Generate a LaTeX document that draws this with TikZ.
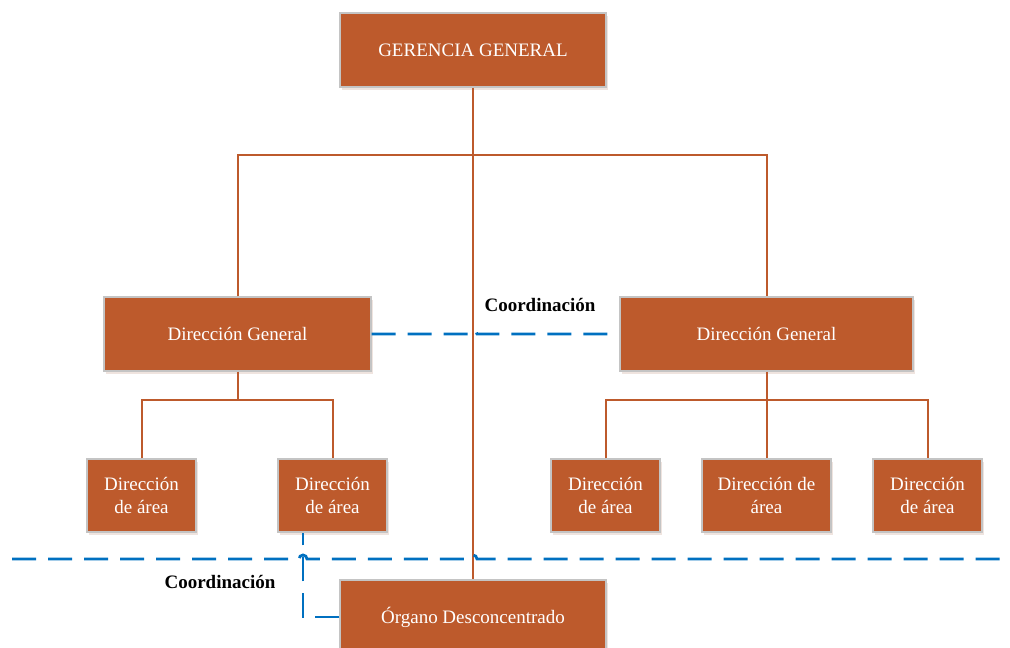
\documentclass[tikz,border=0pt]{standalone}
\usepackage{fontspec}
\setmainfont{Liberation Serif}
\usetikzlibrary{shadows}
\definecolor{boxfill}{HTML}{BD5A2C}
\definecolor{boxedge}{HTML}{C4C4C4}
\definecolor{linkblue}{HTML}{0070C0}
\tikzset{
  unit/.style={draw=boxedge, line width=1.4pt, fill=boxfill, text=white,
    inner sep=0pt, align=center, font=\fontsize{19}{23}\selectfont,
    drop shadow={shadow xshift=2pt, shadow yshift=-3pt, opacity=0.18, fill=boxfill!60!gray}},
  area/.style={unit, minimum width=109pt, minimum height=73pt},
  tree/.style={draw=boxfill, line width=2pt},
  coord/.style={draw=linkblue, line width=2.8pt, dash pattern=on 24pt off 12pt},
  tag/.style={font=\fontsize{19}{23}\selectfont\bfseries, text=black}
}
\begin{document}
\begin{tikzpicture}[x=1pt, y=-1pt]
  \useasboundingbox (0,0) rectangle (1010,648);

  % hierarchy connectors (drawn first, beneath the boxes)
  \coordinate (j1) at (473,155);
  \coordinate (jl) at (237.5,400);
  \coordinate (jr) at (766.5,400);

  % boxes
  \node[unit, minimum width=266pt, minimum height=74pt] (gg) at (473,50) {GERENCIA GENERAL};
  \node[unit, minimum width=267pt, minimum height=74pt] (dgl) at (237.5,334) {Dirección General};
  \node[unit, minimum width=293pt, minimum height=74pt] (dgr) at (766.5,334) {Dirección General};
  \node[area] (a1) at (141.5,495.5) {Dirección\\de área};
  \node[area] (a2) at (332.5,495.5) {Dirección\\de área};
  \node[area] (a3) at (605.5,495.5) {Dirección\\de área};
  \node[area, minimum width=129pt] (a4) at (766.5,495.5) {Dirección de\\área};
  \node[area] (a5) at (927.5,495.5) {Dirección\\de área};
  \node[unit, minimum width=266pt, minimum height=74pt] (org) at (473,617) {Órgano Desconcentrado};

  \draw[tree] (gg.south) -- (org.north);
  \draw[tree] (dgl.north) |- (j1) -| (dgr.north);
  \draw[tree] (dgl.south) -- (jl);
  \draw[tree] (a1.north) |- (jl) -| (a2.north);
  \draw[tree] (dgr.south) -- (jr);
  \draw[tree] (a3.north) |- (jr) -| (a5.north);
  \draw[tree] (jr) -- (a4.north);

  % coordination links
  \draw[coord] (dgl.east) -- (469,334) arc[start angle=180, end angle=0, radius=4pt] -- (dgr.west);

  \coordinate (w) at (12,559);
  \coordinate (e) at (1000,559);
  \draw[coord] (w) -- (299,559) arc[start angle=180, end angle=0, radius=4pt]
    -- (469,559) arc[start angle=180, end angle=0, radius=4pt] -- (e);

  \draw[coord] (org.west) -| ([xshift=-29.5pt]a2.south);

  \node[tag] (t1) at (540,305) {Coordinación};
  \node[tag] (t2) at (220,582) {Coordinación};
\end{tikzpicture}
\end{document}
